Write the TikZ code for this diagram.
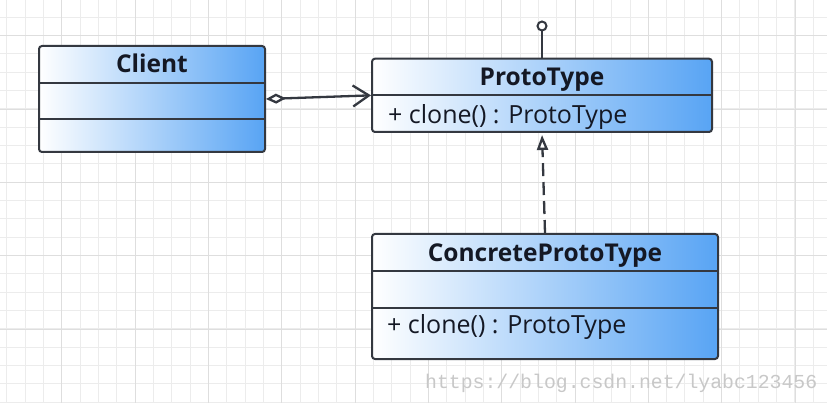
\documentclass[tikz,border=0pt]{standalone}
\usepackage{fontspec}
\setmainfont{Open Sans}
\setmonofont{Liberation Mono}
\usetikzlibrary{arrows.meta,calc}
\definecolor{gridminor}{RGB}{236,236,236}
\definecolor{gridmajor}{RGB}{222,222,222}
\definecolor{edge}{RGB}{52,56,64}
\definecolor{boxblue}{RGB}{88,164,244}
\definecolor{txt}{RGB}{20,24,36}
\definecolor{wm}{RGB}{200,200,200}
\begin{document}
\begin{tikzpicture}[x=1pt,y=-1pt,
  classbox/.style={draw=edge, line width=2pt, rounded corners=3pt, left color=white, right color=boxblue, inner sep=0pt},
  sepline/.style={draw=edge, line width=2pt},
  titletext/.style={font=\fontsize{24.5}{28}\selectfont\bfseries, text=txt, inner sep=0pt, anchor=base},
  membertext/.style={font=\fontsize{25}{28}\selectfont, text=txt, inner sep=0pt, anchor=base west},
  conn/.style={draw=edge, line width=2.3pt},
]
\useasboundingbox (0,0) rectangle (827,403);
\fill[white] (0,0) rectangle (827,403);
% grid
\foreach \i in {0,...,44} \draw[gridminor, line width=1pt] ({6.67+18.333*\i},0) -- ({6.67+18.333*\i},403);
\foreach \j in {0,...,21} \draw[gridminor, line width=1pt] (0,{17.33+18.333*\j}) -- (827,{17.33+18.333*\j});
\foreach \i in {0,...,10} \draw[gridmajor, line width=1pt] ({61.67+73.333*\i},0) -- ({61.67+73.333*\i},403);
\foreach \j in {0,...,4} \draw[gridmajor, line width=1pt] (0,{35.67+73.333*\j}) -- (827,{35.67+73.333*\j});

% Client
\node[classbox, minimum width=226pt, minimum height=106pt] (client) at (152,99) {};
\draw[sepline] (client.west |- 0,82.7) -- (client.east |- 0,82.7);
\draw[sepline] (client.west |- 0,119.3) -- (client.east |- 0,119.3);
\node[titletext] (clientname) at (152,73) {Client};

% ProtoType
\node[classbox, minimum width=340pt, minimum height=73.3pt] (proto) at (542,95.35) {};
\draw[sepline] (proto.west |- 0,95.3) -- (proto.east |- 0,95.3);
\node[titletext] (protoname) at (542,85.5) {ProtoType};
\node[membertext] (protoop) at (388,123.5) {+ clone() : ProtoType};

% ConcreteProtoType
\node[classbox, minimum width=346pt, minimum height=125pt] (concrete) at (545,296.5) {};
\draw[sepline] (concrete.west |- 0,270.7) -- (concrete.east |- 0,270.7);
\draw[sepline] (concrete.west |- 0,307.7) -- (concrete.east |- 0,307.7);
\node[titletext] (concname) at (545,261.5) {ConcreteProtoType};
\node[membertext] (concop) at (387,333.5) {+ clone() : ProtoType};

% interface lollipop
\node[circle, draw=edge, line width=2pt, fill=white, minimum size=9pt, inner sep=0pt] (iface) at (542,26) {};
\draw[conn] (proto.north) -- (iface.south);

% aggregation
\draw[conn, {Diamond[open, length=20pt, width=10pt, fill=white]}-{Straight Barb[length=16pt, width=21pt]}] (client.east) -- (proto.west);

% realization
\draw[conn, dash pattern=on 13pt off 6pt, shorten >=2pt, -{Triangle[open, length=15pt, width=11pt, fill=white]}] (concrete.north) -- (proto.south);

% watermark
\node[font=\ttfamily\fontsize{19.8}{22}\selectfont, text=wm, anchor=base west, inner sep=0pt] (wm) at (425,388) {https://blog.csdn.net/lyabc123456};
\end{tikzpicture}
\end{document}
